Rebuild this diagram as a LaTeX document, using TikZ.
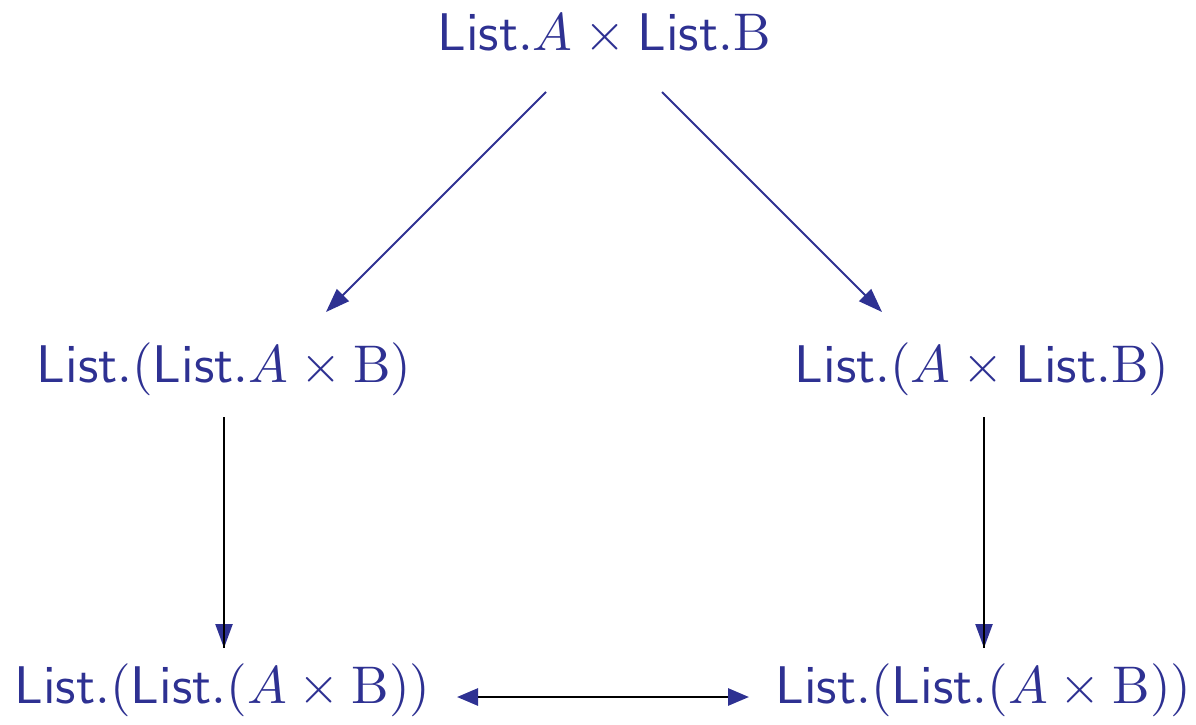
\documentclass[tikz,border=0pt]{standalone}
\usetikzlibrary{arrows.meta}
\definecolor{navy}{RGB}{46,49,146}
\begin{document}
\begin{tikzpicture}[x=1pt,y=-1pt,
  lbl/.style={inner sep=0pt,anchor=base,text=navy,font=\fontsize{10}{12}\selectfont,scale=5.3},
  tipb/.style={-{Triangle[length=24pt,width=17pt,color=navy]}},
  diag/.style={tipb,draw=navy,line width=1.8pt},
  vert/.style={tipb,draw=black,line width=2.4pt},
  horz/.style={{Triangle[length=21pt,width=17pt,color=navy]}-{Triangle[length=21pt,width=17pt,color=navy]},draw=black,line width=2.8pt}]
\useasboundingbox (0,0) rectangle (1196,725);
\node[lbl] (top) at (604,51) {$\mathsf{List}.A\times\mathsf{List}.\mathrm{B}$};
\node[lbl] (ml) at (224,382) {$\mathsf{List}.(\mathsf{List}.A\times\mathrm{B})$};
\node[lbl] (mr) at (982,382) {$\mathsf{List}.(A\times\mathsf{List}.\mathrm{B})$};
\node[lbl] (bl) at (222.5,703) {$\mathsf{List}.(\mathsf{List}.(A\times\mathrm{B}))$};
\node[lbl] (br) at (983.5,703) {$\mathsf{List}.(\mathsf{List}.(A\times\mathrm{B}))$};
\coordinate (t1) at (546,92);
\coordinate (t2) at (662,92);
\coordinate (m1) at (326,312);
\coordinate (m2) at (882,312);
\coordinate (l1) at (224,417);
\coordinate (l2) at (224,648);
\coordinate (r1) at (984,417);
\coordinate (r2) at (984,648);
\coordinate (h1) at (457,697);
\coordinate (h2) at (749,697);
\draw[diag] (t1) -- (m1);
\draw[diag] (t2) -- (m2);
\draw[vert] (l1) -- (l2);
\draw[black,line width=2.4pt] (l1) -- (l2);
\draw[vert] (r1) -- (r2);
\draw[black,line width=2.4pt] (r1) -- (r2);
\draw[horz] (h1) -- (h2);
\end{tikzpicture}
\end{document}
